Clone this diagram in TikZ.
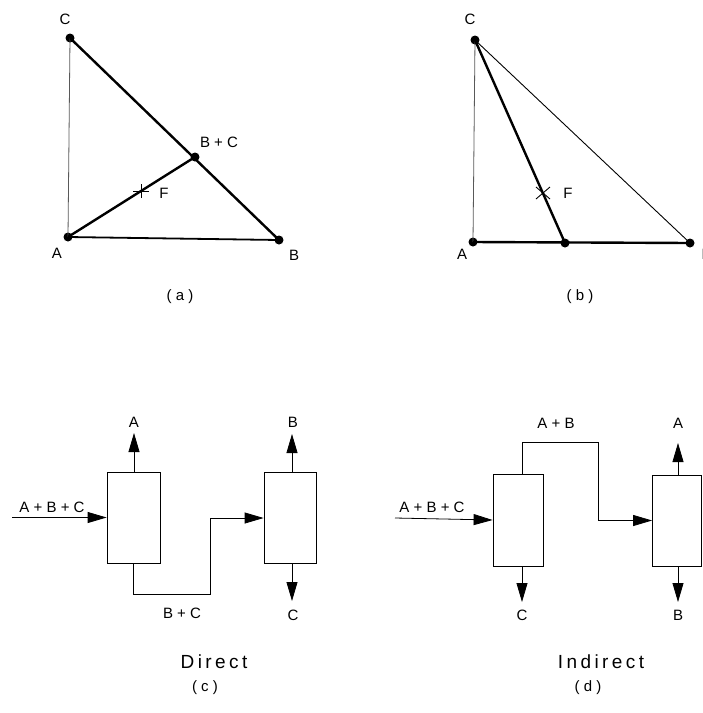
\documentclass[tikz,border=0pt]{standalone}
\usepackage{fontspec}
\setmainfont{Liberation Sans}
\newfontfamily\lblfamily[LetterSpace=28]{Liberation Sans}
\newfontfamily\capfamily[LetterSpace=18]{Liberation Sans}
\newcommand\mylblfont{\lblfamily\fontsize{15}{17}\selectfont}
\newcommand\mycapfont{\capfamily\fontsize{19}{22}\selectfont}
\usetikzlibrary{arrows.meta,calc}
\begin{document}
\begin{tikzpicture}[x=1pt,y=-1pt,
  lbl/.style={font=\mylblfont, inner sep=0},
  captxt/.style={font=\mycapfont, inner sep=0},
  dot/.style={circle, fill=black, inner sep=0, minimum size=9pt},
  thinln/.style={line width=0.8pt, black!65},
  fineln/.style={line width=0.9pt, black},
  medln/.style={line width=1.8pt, black},
  thickln/.style={line width=2.4pt, black},
  box/.style={draw, line width=0.8pt, inner sep=0, minimum width=52pt, minimum height=91pt},
  flow/.style={draw, line width=0.8pt, -{Triangle[length=19pt,width=11pt]}},
  crossln/.style={line width=0.9pt, black}]
\useasboundingbox (0,0) rectangle (703,713);
\clip (0,0) rectangle (703,713);

% ---------- (a) ----------
\node[dot] (aC) at (70,38) {};
\node[dot] (aA) at (68,237) {};
\node[dot] (aB) at (279,240) {};
\node[dot] (aBC) at (195,157) {};
\coordinate (aF) at (141,191);
\draw[thinln] (aA.center) -- (aC.center);
\draw[medln] (aA.center) -- (aB.center);
\draw[thickln] (aC.center) -- (aB.center);
\draw[thickln] (aA.center) -- (aBC.center);
\draw[crossln] ([xshift=-8pt]aF) -- ([xshift=8pt]aF);
\draw[crossln] ([yshift=-7pt]aF) -- ([yshift=7pt]aF);
\node[lbl] (laC) at (65,19) {C};
\node[lbl] (laA) at (57,253) {A};
\node[lbl] (laB) at (294,255) {B};
\node[lbl] (laBC) at (219,142) {B+C};
\node[lbl] (laF) at (164,193) {F};
\node[lbl] (lab) at (180,297) {(a)};

% ---------- (b) ----------
\node[dot] (bC) at (475,40) {};
\node[dot] (bA) at (473,242) {};
\node[dot] (bB) at (690,243) {};
\node[dot] (bM) at (565,243) {};
\coordinate (bF) at (543,193);
\draw[thinln] (bA.center) -- (bC.center);
\draw[fineln] (bC.center) -- (bB.center);
\draw[thickln] (bA.center) -- (bB.center);
\draw[thickln] (bC.center) -- (bM.center);
\draw[crossln] ($(bF)+(-7,-6)$) -- ($(bF)+(7,6)$);
\draw[crossln] ($(bF)+(-7,6)$) -- ($(bF)+(7,-6)$);
\node[lbl] (lbC) at (470,19) {C};
\node[lbl] (lbA) at (462,254) {A};
\node[lbl, anchor=west] (lbB) at (701.3,254) {B};
\node[lbl] (lbF) at (568,193) {F};
\node[lbl] (lbb) at (580,297) {(b)};

% ---------- (c) ----------
\node[box, minimum width=53pt] (c1) at (133.5,517.5) {};
\node[box] (c2) at (290,518) {};
\coordinate (cin) at (12,517.5);
\coordinate (cA) at (134,433);
\coordinate (cB) at (292,434);
\coordinate (cC) at (292,601);
\coordinate (cbend) at (210,594);
\draw[flow] (cin) -- (c1.west);
\draw[flow] ([xshift=0.5pt]c1.north) -- (cA);
\draw[flow] (c1.south) |- (cbend) |- (c2.west);
\draw[flow] ([xshift=2pt]c2.north) -- (cB);
\draw[flow] ([xshift=2pt]c2.south) -- (cC);
\node[lbl] (lcin) at (52,507) {A+B+C};
\node[lbl] (lcA) at (134,422) {A};
\node[lbl] (lcB) at (293,422) {B};
\node[lbl] (lcC) at (293,615) {C};
\node[lbl] (lcBC) at (182,613) {B+C};
\node[captxt] (lcD) at (214,662) {Direct};
\node[lbl] (lcc) at (205,688) {(c)};

% ---------- (d) ----------
\node[box, minimum width=50pt, minimum height=92pt] (d1) at (518,520) {};
\node[box, minimum width=49pt] (d2) at (677,520.5) {};
\coordinate (din) at (395,518);
\coordinate (dC) at (522,602);
\coordinate (dA) at (678,443);
\coordinate (dB) at (678,602);
\coordinate (dbend) at (598,442);
\draw[flow] (din) -- (d1.west);
\draw[flow] ([xshift=4pt]d1.south) -- (dC);
\draw[flow] ([xshift=4pt]d1.north) |- (dbend) |- (d2.west);
\draw[flow] ([xshift=1pt]d2.north) -- (dA);
\draw[flow] ([xshift=1pt]d2.south) -- (dB);
\node[lbl] (ldin) at (432,507) {A+B+C};
\node[lbl] (ldAB) at (556,423) {A+B};
\node[lbl] (ldC) at (522,615) {C};
\node[lbl] (ldA) at (678,423) {A};
\node[lbl] (ldB) at (678,615) {B};
\node[captxt] (ldI) at (601,662) {Indirect};
\node[lbl] (ldd) at (588,688) {(d)};
\end{tikzpicture}
\end{document}
